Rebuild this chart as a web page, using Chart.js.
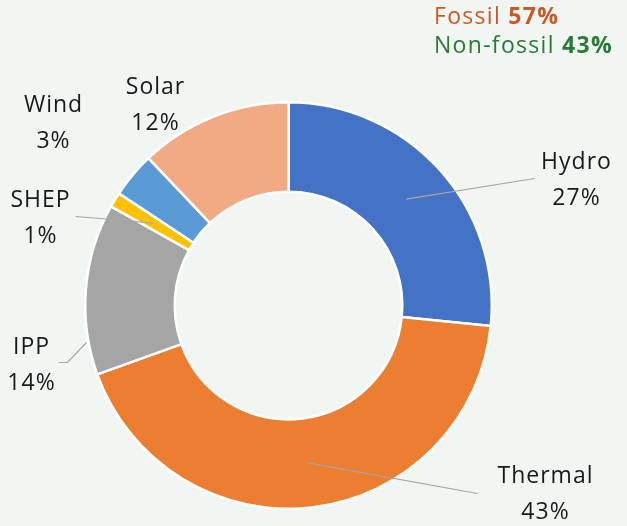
<!DOCTYPE html>
<html><head><meta charset="utf-8">
<script src="https://cdn.jsdelivr.net/npm/chart.js@4"></script>
<style>html,body{margin:0;padding:0;background:#F1F6F3;overflow:hidden}</style>
</head><body>
<canvas id="c" width="627" height="526" style="display:block;width:627px;height:526px"></canvas>
<script>
// ---- data ----
const categories = ['Hydro', 'Thermal', 'IPP', 'SHEP', 'Wind', 'Solar'];
const shares = [26.6, 42.9, 13.6, 1.2, 3.6, 12.1];
const shareLabels = ['27%', '43%', '14%', '1%', '3%', '12%'];
const groupNames = ['Fossil', 'Non-fossil'];
const groupShares = ['57%', '43%'];

// ---- styles / layout ----
const sliceColors = ['#4472C4', '#ED7D31', '#A5A5A5', '#FFC000', '#5B9BD5', '#F2AA84'];
const groupColors = ['#C65A28', '#2A7A36'];
const FONT = '"Open Sans", sans-serif';
// label text center offsets relative to doughnut center, and leader line points
const labelLayout = [
  { text: [288, -125], leader: ['mid', [246, -127]] },
  { text: [257, 189],  leader: ['mid', [189, 188]] },
  { text: [-257, 60],  leader: [[-202, 37], [-221, 57], [-230, 57]] },
  { text: [-248, -87], leader: ['mid', [-188, -87], [-213, -89]] },
  { text: [-235, -182], leader: null },
  { text: [-133, -200], leader: null }
];

const labelPlugin = {
  id: 'labels',
  afterDatasetsDraw(chart) {
    const ctx = chart.ctx;
    const meta = chart.getDatasetMeta(0);
    const arc0 = meta.data[0];
    const cx = arc0.x, cy = arc0.y;
    ctx.save();
    // leader lines
    ctx.strokeStyle = '#A6A6A6';
    ctx.lineWidth = 1.2;
    meta.data.forEach((arc, i) => {
      const L = labelLayout[i].leader;
      if (!L) return;
      ctx.beginPath();
      L.forEach((p, k) => {
        let x, y;
        if (p === 'mid') {
          const c = arc.getCenterPoint();
          x = c.x; y = c.y;
        } else { x = cx + p[0]; y = cy + p[1]; }
        if (k === 0) ctx.moveTo(x, y); else ctx.lineTo(x, y);
      });
      ctx.stroke();
    });
    // labels
    ctx.letterSpacing = '1px';
    ctx.fillStyle = '#1A1A1A';
    ctx.font = '23px ' + FONT;
    ctx.textAlign = 'center';
    ctx.textBaseline = 'middle';
    categories.forEach((name, i) => {
      const t = labelLayout[i].text;
      ctx.fillText(name, cx + t[0], cy + t[1] - 18);
      ctx.fillText(shareLabels[i], cx + t[0], cy + t[1] + 18);
    });
    // group summary, left aligned
    const left = 434;
    ctx.textAlign = 'left';
    ctx.letterSpacing = '1.3px';
    groupNames.forEach((g, i) => {
      const y = 17 + i * 29;
      ctx.fillStyle = groupColors[i];
      ctx.font = '23px ' + FONT;
      const txt = g + ' ';
      ctx.fillText(txt, left, y);
      const w = ctx.measureText(txt).width;
      ctx.font = 'bold 23px ' + FONT;
      ctx.fillText(groupShares[i], left + w, y);
    });
    ctx.restore();
  }
};

new Chart(document.getElementById('c'), {
  type: 'doughnut',
  data: {
    labels: categories,
    datasets: [{
      data: shares,
      backgroundColor: sliceColors,
      borderColor: '#FFFFFF',
      borderWidth: 2.5,
      hoverOffset: 0
    }]
  },
  options: {
    responsive: false,
    animation: false,
    cutout: '56%',
    layout: { padding: { left: 84, right: 134, top: 101, bottom: 16 } },
    plugins: { legend: { display: false }, tooltip: { enabled: false } }
  },
  plugins: [labelPlugin]
});
</script>
</body></html>
